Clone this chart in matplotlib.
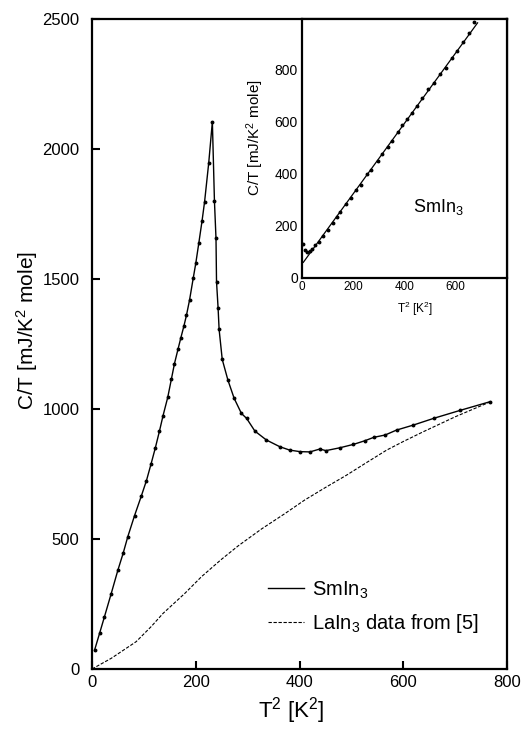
import matplotlib
matplotlib.use("Agg")
import matplotlib.pyplot as plt

plt.rcParams['font.family'] = ['Liberation Sans', 'DejaVu Sans']
plt.rcParams['mathtext.fontset'] = 'custom'
plt.rcParams['mathtext.rm'] = 'Liberation Sans'
plt.rcParams['mathtext.it'] = 'Liberation Sans'

# SmIn3 measured points (T^2 in K^2, C/T in mJ/K^2 mole)
sm_t2 = [5, 15, 24, 37, 50, 60, 69, 82, 95, 105, 114, 122, 130, 137, 146, 153,
         159, 166, 171, 177, 182, 188, 195, 200, 206, 212, 217, 225, 232,
         236, 239, 240, 243, 245, 251, 262, 274, 288, 298, 314, 336, 362,
         381, 401, 420, 439, 451, 478, 504, 526, 543, 565, 587, 619, 660,
         710, 767]
sm_ct = [73, 140, 201, 290, 381, 445, 509, 590, 665, 725, 790, 850, 915, 975,
         1045, 1115, 1175, 1232, 1272, 1318, 1360, 1419, 1502, 1560, 1640,
         1722, 1797, 1947, 2105, 1800, 1656, 1490, 1390, 1306, 1191, 1111,
         1041, 983, 964, 915, 881, 855, 842, 836, 835, 846, 840, 851, 864,
         878, 891, 900, 919, 938, 965, 995, 1028]

# LaIn3 reference curve
la_t2 = [0, 37, 85, 114, 137, 179, 211, 249, 282, 327, 372, 410, 449, 491,
         530, 568, 600, 639, 700, 767]
la_ct = [0, 41, 105, 163, 214, 291, 355, 421, 474, 539, 598, 650, 697, 746,
         795, 842, 875, 913, 970, 1027]

# inset: low temperature points and linear fit
in_t2 = [3, 10, 21, 30, 38, 50, 65, 80, 100, 120, 135, 150, 170, 190, 210,
         232, 255, 270, 295, 312, 335, 352, 375, 392, 410, 428, 450, 470,
         492, 515, 540, 560, 585, 605, 628, 650, 670]
in_ct = [129, 107, 98, 105, 112, 125, 140, 160, 185, 212, 235, 252, 283, 308,
         338, 359, 398, 415, 448, 475, 505, 528, 560, 588, 610, 635, 662,
         690, 725, 750, 782, 808, 845, 870, 905, 941, 983]
fit_t2 = [5, 685]
fit_ct = [60, 980]

fig = plt.figure(figsize=(5.21, 7.29), dpi=100)
ax = fig.add_axes([0.1766, 0.0823, 0.7966, 0.8916])

ax.plot(sm_t2, sm_ct, color='black', lw=1.0, label='SmIn$_3$')
ax.plot(sm_t2, sm_ct, 'o', color='black', ms=1.8, ls='none')
ax.plot(la_t2, la_ct, color='black', lw=0.8, ls=(0, (3, 1.5)),
        label='LaIn$_3$ data from [5]')

ax.set_xlim(0, 800)
ax.set_ylim(0, 2500)
ax.set_xticks([0, 200, 400, 600, 800])
ax.set_yticks([0, 500, 1000, 1500, 2000, 2500])
ax.tick_params(direction='in', length=6, width=1.5, labelsize=12, pad=4)
ax.tick_params(axis='y', pad=9)
for s in ax.spines.values():
    s.set_linewidth(1.6)
ax.set_xlabel('T$^2$ [K$^2$]', fontsize=16)
ax.xaxis.set_label_coords(0.48, -0.04)
ax.set_ylabel('C/T [mJ/K$^2$ mole]', fontsize=15)
ax.yaxis.set_label_coords(-0.125, 0.52)

ax.legend(loc='lower left', bbox_to_anchor=(0.40, 0.037), frameon=False,
          fontsize=14.5, handlelength=1.8, handletextpad=0.4,
          labelspacing=0.55, borderpad=0)

# inset
ins = fig.add_axes([0.5797, 0.6187, 0.3935, 0.3553])
ins.plot(fit_t2, fit_ct, color='black', lw=0.9)
ins.plot(in_t2, in_ct, 'o', color='black', ms=1.8)
ins.set_xlim(0, 800)
ins.set_ylim(0, 995)
ins.set_xticks([0, 200, 400, 600])
ins.set_yticks([0, 200, 400, 600, 800])
ins.tick_params(length=0, pad=3)
ins.tick_params(axis='x', labelsize=8.5, pad=2)
ins.tick_params(axis='y', labelsize=10)
for s in ins.spines.values():
    s.set_linewidth(1.6)
ins.set_xlabel('T$^2$ [K$^2$]', fontsize=8.5)
ins.xaxis.set_label_coords(0.55, -0.085)
ins.set_ylabel('C/T [mJ/K$^2$ mole]', fontsize=11)
ins.yaxis.set_label_coords(-0.175, 0.54)
ins.text(434, 272, 'SmIn$_3$', fontsize=13, va='center', ha='left')

fig.savefig('out.png', dpi=100)
